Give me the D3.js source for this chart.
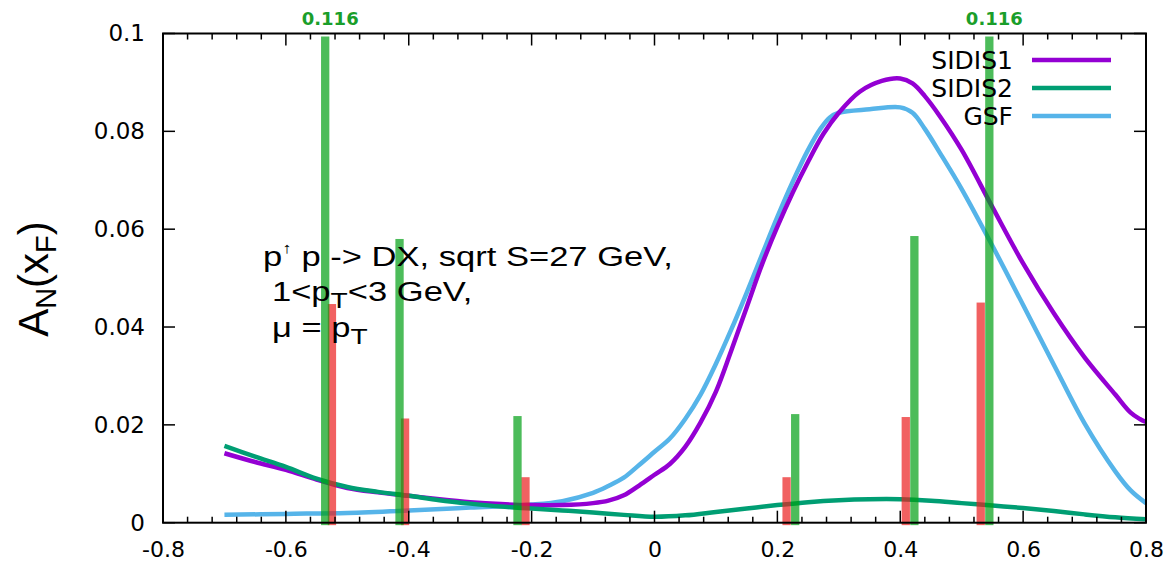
<!DOCTYPE html>
<html>
<head>
<meta charset="utf-8">
<script src="https://cdn.jsdelivr.net/npm/d3@7"></script>
<style>
  html, body { margin: 0; padding: 0; background: #fff; }
  svg { display: block; }
</style>
</head>
<body>
<svg id="chart" width="1172" height="568"></svg>
<script>
// x_F grid and model curves
const sidis1X = [-0.7, -0.65, -0.6, -0.55, -0.5, -0.45, -0.4, -0.35, -0.3, -0.25, -0.2, -0.15, -0.1, -0.075, -0.05, -0.025, 0.0, 0.025, 0.05, 0.075, 0.1, 0.125, 0.15, 0.175, 0.2, 0.225, 0.25, 0.275, 0.3, 0.334, 0.37, 0.4, 0.42, 0.44, 0.465, 0.5, 0.55, 0.6, 0.65, 0.7, 0.75, 0.775, 0.79, 0.8];
const sidis1Y = [0.0142, 0.0124, 0.0108, 0.0088, 0.0071, 0.0062, 0.0055, 0.0048, 0.0042, 0.0038, 0.0036, 0.0036, 0.0040, 0.0045, 0.0056, 0.0076, 0.0098, 0.0120, 0.0155, 0.0205, 0.0268, 0.0352, 0.0440, 0.0528, 0.0605, 0.0675, 0.0738, 0.0795, 0.0838, 0.0881, 0.0903, 0.0908, 0.0898, 0.0872, 0.0830, 0.0762, 0.0645, 0.0530, 0.0428, 0.0338, 0.0262, 0.0225, 0.0212, 0.0206];

const sidis2X = [-0.7, -0.65, -0.6, -0.55, -0.5, -0.45, -0.4, -0.35, -0.3, -0.25, -0.2, -0.15, -0.1, -0.05, 0.0, 0.05, 0.1, 0.15, 0.2, 0.25, 0.3, 0.35, 0.4, 0.45, 0.5, 0.55, 0.6, 0.65, 0.7, 0.75, 0.8];
const sidis2Y = [0.0157, 0.0135, 0.0114, 0.0090, 0.0073, 0.0063, 0.0055, 0.0046, 0.0039, 0.0033, 0.0029, 0.0025, 0.0021, 0.0016, 0.0012, 0.0015, 0.0022, 0.0029, 0.0036, 0.0042, 0.0046, 0.0048, 0.0048, 0.0045, 0.0040, 0.0035, 0.0030, 0.0024, 0.0017, 0.0011, 0.0007];

const gsfX = [-0.7, -0.6, -0.5, -0.4, -0.3, -0.2, -0.15, -0.1, -0.075, -0.05, -0.025, 0.0, 0.025, 0.05, 0.075, 0.1, 0.125, 0.15, 0.175, 0.2, 0.225, 0.25, 0.27, 0.285, 0.3, 0.35, 0.4, 0.42, 0.44, 0.465, 0.5, 0.55, 0.6, 0.65, 0.7, 0.75, 0.775, 0.8];
const gsfY = [0.0016, 0.0018, 0.0020, 0.0025, 0.0031, 0.0037, 0.0044, 0.0061, 0.0075, 0.0092, 0.0118, 0.0145, 0.0172, 0.0212, 0.0262, 0.0325, 0.0395, 0.0470, 0.0548, 0.0625, 0.0697, 0.0762, 0.0805, 0.0828, 0.0838, 0.0845, 0.0849, 0.0838, 0.0805, 0.0755, 0.0682, 0.0566, 0.0445, 0.0323, 0.0203, 0.0105, 0.0066, 0.0040];

// measured asymmetries shown as bars
const greenBarX = [-0.536, -0.415, -0.223, 0.229, 0.423, 0.545];
const greenBarY = [0.116, 0.058, 0.0218, 0.0222, 0.0586, 0.116];
const redBarX = [-0.525, -0.406, -0.210, 0.215, 0.409, 0.531];
const redBarY = [0.0447, 0.0213, 0.0093, 0.0093, 0.0216, 0.0450];

const xTicks = [-0.8, -0.6, -0.4, -0.2, 0, 0.2, 0.4, 0.6, 0.8];
const yTicks = [0, 0.02, 0.04, 0.06, 0.08, 0.1];

const seriesNames = ["SIDIS1", "SIDIS2", "GSF"];
const seriesColors = ["#9400d3", "#009e73", "#56b4e9"];

const svg = d3.select("#chart");
const plotLeft = 163, plotRight = 1146, plotTop = 33.5, plotBottom = 522.7;

const x = d3.scaleLinear().domain([-0.8, 0.8]).range([plotLeft, plotRight]);
const y = d3.scaleLinear().domain([0, 0.1]).range([plotBottom, plotTop]);

const tickFont = "'DejaVu Sans', sans-serif";

// clip for the data area
svg.append("defs").append("clipPath").attr("id", "plotClip")
  .append("rect")
  .attr("x", plotLeft).attr("y", plotTop + 3)
  .attr("width", plotRight - plotLeft).attr("height", plotBottom - plotTop);

// curves
const curves = [
  sidis1X.map((d, i) => [d, sidis1Y[i]]),
  sidis2X.map((d, i) => [d, sidis2Y[i]]),
  gsfX.map((d, i) => [d, gsfY[i]])
];
const line = d3.line().x(d => x(d[0])).y(d => y(d[1])).curve(d3.curveCatmullRom.alpha(0.5));
const curveG = svg.append("g").attr("clip-path", "url(#plotClip)");
// GSF first, then SIDIS1 and SIDIS2 on top
[2, 0, 1].forEach(k => {
  curveG.append("path")
    .attr("d", line(curves[k]))
    .attr("fill", "none")
    .attr("stroke", seriesColors[k])
    .attr("stroke-width", 4.5)
    .attr("stroke-linejoin", "round");
});

// bars
const barW = 8.3;
const barG = svg.append("g").attr("clip-path", "url(#plotClip)");
function drawBars(xs, ys, color) {
  barG.selectAll(null)
    .data(xs.map((d, i) => ({ x: d, v: ys[i] })))
    .join("rect")
    .attr("x", d => x(d.x) - barW / 2)
    .attr("y", d => y(d.v))
    .attr("width", barW)
    .attr("height", d => y(0) - y(d.v) + 2.5)
    .attr("fill", color)
    .attr("fill-opacity", 0.7);
}
drawBars(redBarX, redBarY, "#eb1e1e");
drawBars(greenBarX, greenBarY, "#00a014");

// values of bars that run past the top of the frame
const offscale = greenBarX.map((d, i) => ({ x: d, v: greenBarY[i] })).filter(d => d.v > y.domain()[1]);
svg.selectAll(null).data(offscale).join("text")
  .attr("x", d => x(d.x) + 5)
  .attr("y", 25)
  .attr("text-anchor", "middle")
  .attr("font-family", tickFont)
  .attr("font-weight", "bold")
  .attr("font-size", 18)
  .attr("fill", "#1a9e2a")
  .text(d => d.v.toFixed(3));

// frame and inward ticks on all four sides
const xMinor = d3.range(-0.8, 0.8001, 0.04).map(v => +v.toFixed(2));
const axisG = svg.append("g").attr("stroke", "#000");
xMinor.forEach(v => {
  const major = xTicks.some(t => Math.abs(t - v) < 1e-6);
  const len = major ? 12 : 6;
  axisG.append("line").attr("x1", x(v)).attr("x2", x(v)).attr("y1", plotBottom).attr("y2", plotBottom - len).attr("stroke-width", 1.5);
  axisG.append("line").attr("x1", x(v)).attr("x2", x(v)).attr("y1", plotTop).attr("y2", plotTop + len).attr("stroke-width", 1.5);
});
yTicks.forEach(v => {
  axisG.append("line").attr("x1", plotLeft).attr("x2", plotLeft + 12).attr("y1", y(v)).attr("y2", y(v)).attr("stroke-width", 1.5);
  axisG.append("line").attr("x1", plotRight).attr("x2", plotRight - 12).attr("y1", y(v)).attr("y2", y(v)).attr("stroke-width", 1.5);
});
axisG.append("rect")
  .attr("x", plotLeft).attr("y", plotTop)
  .attr("width", plotRight - plotLeft).attr("height", plotBottom - plotTop)
  .attr("fill", "none").attr("stroke-width", 2);

const xAxis = d3.axisBottom(x).tickValues(xTicks).tickSize(0).tickPadding(0)
  .tickFormat(d => d === 0 ? "0" : d3.format(".1f")(d).replace("\u2212", "-"));
svg.append("g").attr("transform", `translate(0,${plotBottom + 19})`).call(xAxis)
  .call(g => g.select(".domain").remove())
  .selectAll("text").attr("font-family", tickFont).attr("font-size", 22).attr("fill", "#000").attr("dy", "0.71em");

const yAxis = d3.axisLeft(y).tickValues(yTicks).tickSize(0).tickPadding(0)
  .tickFormat(d => d === 0 ? "0" : (d === 0.1 ? "0.1" : d3.format(".2f")(d)));
svg.append("g").attr("transform", `translate(${plotLeft - 18},0)`).call(yAxis)
  .call(g => g.select(".domain").remove())
  .selectAll("text").attr("font-family", tickFont).attr("font-size", 23).attr("fill", "#000");

// y-axis title
const yt = svg.append("text")
  .attr("transform", "translate(48,279) rotate(-90)")
  .attr("text-anchor", "middle")
  .attr("font-family", "'Liberation Sans', Arial, sans-serif")
  .attr("font-size", 42)
  .attr("fill", "#000");
yt.append("tspan").text("A");
yt.append("tspan").attr("font-size", 29).attr("dy", 8).text("N");
yt.append("tspan").attr("dy", -8).text("(x");
yt.append("tspan").attr("font-size", 29).attr("dy", 8).text("F");
yt.append("tspan").attr("dy", -8).text(")");

// legend
const legG = svg.append("g").attr("font-family", tickFont).attr("font-size", 25);
seriesNames.forEach((name, i) => {
  const ly = 60 + i * 28;
  legG.append("text").attr("x", 1013).attr("y", ly).attr("dy", "0.36em")
    .attr("text-anchor", "end").attr("fill", "#000").text(name);
  legG.append("line").attr("x1", 1032).attr("x2", 1111).attr("y1", ly).attr("y2", ly)
    .attr("stroke", seriesColors[i]).attr("stroke-width", 4.5);
});

// process annotation: a wide label block
const annFont = "'Liberation Sans', Arial, sans-serif";
const annG = svg.append("g")
  .attr("font-family", annFont).attr("font-size", 27).attr("fill", "#000");
const a1 = annG.append("text").attr("x", 0).attr("y", 266);
a1.append("tspan").text("p");
a1.append("tspan").attr("font-size", 15).attr("dy", -13).text("↑");
a1.append("tspan").attr("dy", 13).text(" p -> DX, sqrt S=27 GeV,");

const a2 = annG.append("text").attr("x", 7).attr("y", 301);
a2.append("tspan").text("1<p");
a2.append("tspan").attr("font-size", 22).attr("dy", 7).text("T");
a2.append("tspan").attr("dy", -7).text("<3 GeV,");

const a3 = annG.append("text").attr("x", 7).attr("y", 337);
a3.append("tspan").text("μ = p");
a3.append("tspan").attr("font-size", 22).attr("dy", 7).text("T");

const annWidth = 410;
const sx = annWidth / a1.node().getComputedTextLength();
annG.attr("transform", `translate(263,0) scale(${sx},1)`);
</script>
</body>
</html>
